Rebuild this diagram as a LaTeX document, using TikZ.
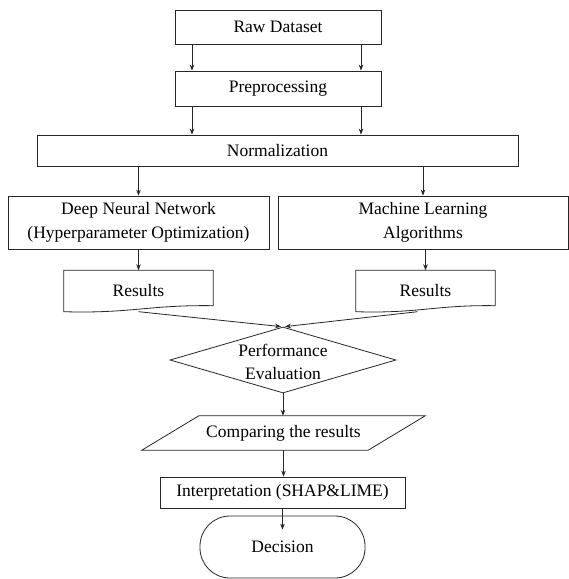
\documentclass[tikz,border=0pt]{standalone}
\usepackage{fontspec}
\setmainfont{Liberation Serif}
\usetikzlibrary{arrows.meta,shapes.geometric}
\begin{document}
\begin{tikzpicture}[x=1pt,y=-1pt,
  every node/.style={font=\fontsize{17.5}{23.5}\selectfont, inner sep=0pt},
  ln/.style={draw=black!85, line width=0.8pt},
  box/.style={ln, rectangle},
  arr/.style={draw=black!85, line width=0.8pt, -{Stealth[length=6pt,width=4.5pt]}}]
\path[use as bounding box, fill=white] (0,0) rectangle (569,579);

\node[box, minimum width=206pt, minimum height=34pt] (raw) at (278,27) {Raw Dataset};
\node[box, minimum width=206pt, minimum height=35pt] (pre) at (278,88.5) {Preprocessing};
\node[box, minimum width=481pt, minimum height=31pt] (norm) at (277.5,150.5) {Normalization};
\node[box, minimum width=261pt, minimum height=53pt, align=center] (dnn) at (138.5,222.5) {Deep Neural Network\\(Hyperparameter Optimization)};
\node[box, minimum width=290pt, minimum height=53pt, align=center] (ml) at (423,222.5) {Machine Learning\\Algorithms};

\node[minimum width=149pt, minimum height=41pt] (res1) at (138.5,291) {Results};
\node[minimum width=139pt, minimum height=41pt] (res2) at (425.5,291) {Results};
\draw[ln] (res1.south west) .. controls ([xshift=66pt,yshift=-2pt]res1.south west) and ([xshift=-63pt,yshift=7pt]res1.south east) .. ([yshift=6pt]res1.south east) -- (res1.north east) -- (res1.north west) -- cycle;
\draw[ln] (res2.south west) .. controls ([xshift=62pt,yshift=-2pt]res2.south west) and ([xshift=-58pt,yshift=7pt]res2.south east) .. ([yshift=6pt]res2.south east) -- (res2.north east) -- (res2.north west) -- cycle;

\node[diamond, ln, minimum width=226pt, minimum height=66pt, inner sep=0pt] (dia) at (283,360) {};
\node[align=center] (diatxt) at (283,362) {Performance\\Evaluation};

\node[minimum width=226pt, minimum height=34pt] (cmp) at (283.5,433) {Comparing the results};
\draw[ln] ([xshift=-28.5pt]cmp.south west) -- ([xshift=28.5pt]cmp.north west) -- ([xshift=28.5pt]cmp.north east) -- ([xshift=-28.5pt]cmp.south east) -- cycle;

\node[box, minimum width=245pt, minimum height=31pt] (interp) at (282.5,492.5) {Interpretation (SHAP\&LIME)};
\node[box, rounded corners=30pt, minimum width=165pt, minimum height=62pt] (dec) at (282.5,547) {Decision};

\coordinate (rL) at ([xshift=-86pt]raw.south);
\coordinate (rR) at ([xshift=83pt]raw.south);
\coordinate (pL) at ([xshift=-86pt]pre.south);
\coordinate (pR) at ([xshift=83pt]pre.south);
\coordinate (decin) at ([yshift=-14pt]dec.north);

\draw[arr] (rL) -- (rL |- pre.north);
\draw[arr] (rR) -- (rR |- pre.north);
\draw[arr] (pL) -- (pL |- norm.north);
\draw[arr] (pR) -- (pR |- norm.north);
\draw[arr] (norm.south -| dnn.north) -- (dnn.north);
\draw[arr] (norm.south -| ml.north) -- (ml.north);
\draw[arr] (dnn.south) -- (res1.north);
\draw[arr] (ml.south -| res2.north) -- (res2.north);
\draw[arr] (res1.south) -- ([xshift=-2pt]dia.north);
\draw[arr] ([xshift=-8pt]res2.south) -- ([xshift=2pt]dia.north);
\draw[arr] (dia.south) -- (dia.south |- cmp.north);
\draw[arr] (cmp.south) -- (cmp.south |- interp.north);
\draw[arr] (interp.south) -- (decin);
\end{tikzpicture}
\end{document}
